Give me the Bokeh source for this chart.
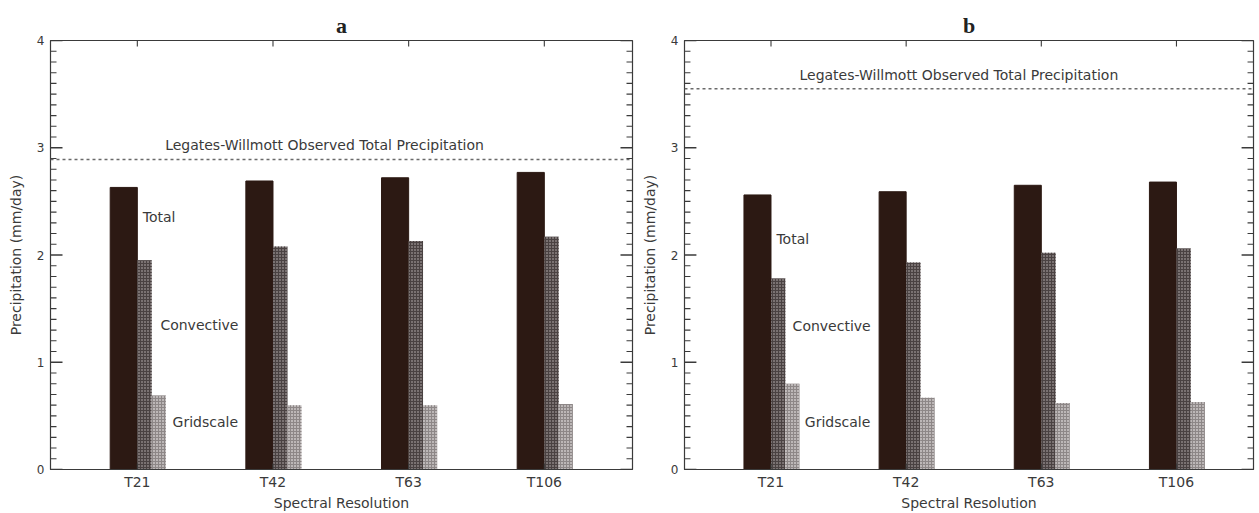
from bokeh.plotting import figure
from bokeh.layouts import row
from bokeh.models import (Range1d, FixedTicker, Span, Label, ColumnDataSource)
from bokeh.embed import file_html
from bokeh.resources import INLINE

# ---------------- data ----------------
resolutions = ["T21", "T42", "T63", "T106"]
series_names = ["Total", "Convective", "Gridscale"]

total_a = [2.63, 2.69, 2.72, 2.77]
convective_a = [1.95, 2.08, 2.13, 2.17]
gridscale_a = [0.69, 0.60, 0.60, 0.61]
observed_a = 2.89

total_b = [2.56, 2.59, 2.65, 2.68]
convective_b = [1.78, 1.93, 2.02, 2.06]
gridscale_b = [0.80, 0.67, 0.62, 0.63]
observed_b = 3.55

panel_titles = ["a", "b"]
obs_label = "Legates-Willmott Observed Total Precipitation"
y_label = "Precipitation (mm/day)"
x_label = "Spectral Resolution"
y_ticks = [0, 1, 2, 3, 4]

# ---------------- style ----------------
FONT = "DejaVu Sans"
TXT = "#3a3a3a"
AX = "#3a3a3a"
C_TOTAL = "#2c1913"
C_CONV = "#7a7272"
C_GRID = "#bcb7b7"
H = 513
B_TOP, B_BOT = 40, 42

y_minor = [t + k / 10 for t in y_ticks[:-1] for k in range(1, 10)]


def make_panel(title, total, conv, grid, observed, width, border_left, border_right,
               x_start, x_end, obs_label_xy, name_pos):
    xs = [i + 1 for i in range(len(resolutions))]
    y0, y1 = 0, 4
    p = figure(width=width, height=H, output_backend="svg", toolbar_location=None,
               x_range=Range1d(x_start, x_end), y_range=Range1d(y0, y1),
               min_border_left=border_left, min_border_right=border_right,
               min_border_top=B_TOP, min_border_bottom=B_BOT,
               title=title, background_fill_color="white", border_fill_color="white")
    p.title.align = "center"
    p.title.text_font = "Liberation Serif"
    p.title.text_font_size = "22px"
    p.title.text_font_style = "bold"
    p.title.text_color = "#222222"
    p.title.standoff = 6
    p.grid.visible = False
    p.outline_line_color = AX
    p.outline_line_width = 1.2

    src = ColumnDataSource(dict(
        x_total=[x - 0.1 for x in xs], x_conv=[x + 0.053 for x in xs],
        x_grid=[x + 0.158 for x in xs], total=total, conv=conv, grid=grid))
    p.vbar(x="x_total", top="total", bottom=0, width=0.2, source=src,
           fill_color=C_TOTAL, line_color=C_TOTAL)
    p.vbar(x="x_conv", top="conv", bottom=0, width=0.106, source=src,
           fill_color=C_CONV, line_color=None,
           hatch_pattern="cross", hatch_color="#4a4242", hatch_scale=3, hatch_weight=1)
    p.vbar(x="x_grid", top="grid", bottom=0, width=0.104, source=src,
           fill_color=C_GRID, line_color=None,
           hatch_pattern="cross", hatch_color="#8d8787", hatch_scale=3, hatch_weight=1)

    p.add_layout(Span(location=observed, dimension="width", line_color="#6a6a6a",
                      line_width=1.6, line_dash="3 3"))
    p.add_layout(Label(x=obs_label_xy[0], y=obs_label_xy[1], text=obs_label,
                       text_align="center", text_baseline="middle",
                       text_font=FONT, text_font_size="14px", text_color=TXT))
    for name, (nx, ny) in zip(series_names, name_pos):
        p.add_layout(Label(x=nx, y=ny, text=name, text_align="left",
                           text_baseline="middle", text_font=FONT,
                           text_font_size="14px", text_color=TXT))

    # inward tick marks on all four sides (lengths converted from pixels)
    dxpx = (x_end - x_start) / (width - border_left - border_right)
    dypx = (y1 - y0) / (H - B_TOP - B_BOT)
    for xe, sgn in ((x_start, 1), (x_end, -1)):
        p.segment(x0=[xe] * len(y_ticks), x1=[xe + sgn * 12 * dxpx] * len(y_ticks),
                  y0=y_ticks, y1=y_ticks, line_color=AX, line_width=1.3)
        p.segment(x0=[xe] * len(y_minor), x1=[xe + sgn * 6 * dxpx] * len(y_minor),
                  y0=y_minor, y1=y_minor, line_color=AX, line_width=1.1)
    for ye, sgn in ((y0, 1), (y1, -1)):
        p.segment(x0=xs, x1=xs, y0=[ye] * len(xs), y1=[ye + sgn * 6 * dypx] * len(xs),
                  line_color=AX, line_width=1.1)

    # left axis (labels only)
    ya = p.yaxis[0]
    ya.ticker = FixedTicker(ticks=y_ticks)
    ya.axis_label = y_label
    ya.axis_label_text_font = FONT
    ya.axis_label_text_font_size = "14px"
    ya.axis_label_text_font_style = "normal"
    ya.axis_label_text_color = TXT
    ya.axis_label_standoff = 10
    ya.major_label_text_font = FONT
    ya.major_label_text_font_size = "12px"
    ya.major_label_text_color = TXT
    ya.major_label_standoff = 6
    ya.major_tick_in = 0
    ya.major_tick_out = 0
    ya.minor_tick_line_color = None
    ya.axis_line_color = AX

    # bottom axis (labels only)
    xa = p.xaxis[0]
    xa.ticker = FixedTicker(ticks=xs)
    xa.major_label_overrides = {x: r for x, r in zip(xs, resolutions)}
    xa.axis_label = x_label
    xa.axis_label_text_font = FONT
    xa.axis_label_text_font_size = "14px"
    xa.axis_label_text_font_style = "normal"
    xa.axis_label_text_color = TXT
    xa.axis_label_standoff = 2
    xa.major_label_text_font = FONT
    xa.major_label_text_font_size = "14px"
    xa.major_label_text_color = TXT
    xa.major_label_standoff = 4
    xa.major_tick_in = 0
    xa.major_tick_out = 0
    xa.minor_tick_line_color = None
    xa.axis_line_color = AX
    return p


pa = make_panel(panel_titles[0], total_a, convective_a, gridscale_a, observed_a,
                width=638, border_left=50, border_right=6, x_start=0.36, x_end=4.65,
                obs_label_xy=(2.38, 3.03),
                name_pos=[(1.04, 2.35), (1.17, 1.35), (1.26, 0.44)])
pb = make_panel(panel_titles[1], total_b, convective_b, gridscale_b, observed_b,
                width=621, border_left=42, border_right=6, x_start=0.36, x_end=4.57,
                obs_label_xy=(2.39, 3.68),
                name_pos=[(1.04, 2.15), (1.16, 1.34), (1.25, 0.44)])

layout = row(pa, pb)
open("out.html", "w").write(file_html(layout, INLINE))
